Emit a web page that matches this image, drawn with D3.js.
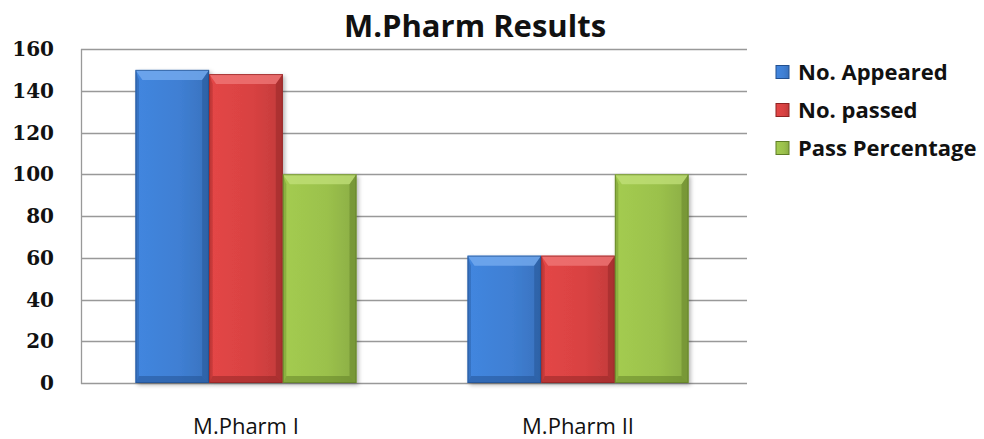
<!DOCTYPE html>
<html><head><meta charset="utf-8">
<script src="https://cdn.jsdelivr.net/npm/d3@7"></script>
<style>body{margin:0;background:#fff}svg{display:block}</style>
</head><body>
<svg id="c" width="984" height="439"></svg>
<script>
const title = "M.Pharm Results";
const categories = ["M.Pharm I", "M.Pharm II"];
const seriesNames = ["No. Appeared", "No. passed", "Pass Percentage"];
const appeared = [150, 61];
const passed = [148, 61];
const passPct = [100, 100];
const yTicks = [0, 20, 40, 60, 80, 100, 120, 140, 160];
const colors = ["#3f7fd3", "#d84242", "#9bc14c"];
const darks = ["#22508f", "#8e2323", "#5f7d26"];
const lights = ["#78aef0", "#f07a7a", "#c2e07a"];

(function () {
const seriesVals = [appeared, passed, passPct];
const svg = d3.select("#c");
const font = "'Open Sans', 'DejaVu Sans', sans-serif";
const serif = "'DejaVu Serif', 'Liberation Serif', serif";
const pL = 81, pR = 747, pT = 49, pB = 383;

const y = d3.scaleLinear().domain([0, 160]).range([pB, pT]);
const x0 = d3.scaleBand().domain(categories).range([80, 744]).paddingInner(0.3343).paddingOuter(0.167);
const x1 = d3.scaleBand().domain(seriesNames).range([0, x0.bandwidth()]);

const defs = svg.append("defs");
colors.forEach((c, i) => {
  const g = defs.append("linearGradient").attr("id", "g" + i).attr("x1", 0).attr("x2", 1).attr("y1", 0).attr("y2", 0);
  g.append("stop").attr("offset", "0%").attr("stop-color", d3.color(c).brighter(0.15));
  g.append("stop").attr("offset", "60%").attr("stop-color", c);
  g.append("stop").attr("offset", "100%").attr("stop-color", d3.color(c).darker(0.3));
});
const f = defs.append("filter").attr("id", "sh").attr("x", "-20%").attr("y", "-20%").attr("width", "150%").attr("height", "150%");
f.append("feDropShadow").attr("dx", 2).attr("dy", 2).attr("stdDeviation", 2).attr("flood-color", "#000").attr("flood-opacity", 0.3);

svg.append("g").selectAll("line").data(yTicks).join("line")
  .attr("x1", pL).attr("x2", pR)
  .attr("y1", d => Math.round(y(d)) + 0.5).attr("y2", d => Math.round(y(d)) + 0.5)
  .attr("stroke", "#999").attr("stroke-width", 1.3);
svg.append("line").attr("x1", pL + 0.5).attr("x2", pL + 0.5).attr("y1", pT).attr("y2", pB + 1)
  .attr("stroke", "#999").attr("stroke-width", 1.3);

svg.append("g").selectAll("text").data(yTicks).join("text")
  .attr("x", 54).attr("y", d => y(d)).attr("dy", "0.36em")
  .attr("text-anchor", "end").attr("font-family", serif).attr("font-weight", "bold")
  .attr("font-size", 20).attr("fill", "#111").text(d => d);

const bevel = 7;
categories.forEach((cat, ci) => {
  seriesNames.forEach((s, si) => {
    const v = seriesVals[si][ci];
    const bx = x0(cat) + x1(s), bw = x1.bandwidth();
    const by = y(v), bh = y(0) - y(v);
    const g = svg.append("g");
    g.append("rect").attr("x", bx).attr("y", by).attr("width", bw).attr("height", bh)
      .attr("fill", `url(#g${si})`).attr("filter", "url(#sh)");
    g.append("path").attr("d", `M${bx},${by}L${bx + bw},${by}L${bx + bw - bevel},${by + bevel + 3}L${bx + bevel},${by + bevel + 3}Z`)
      .attr("fill", lights[si]).attr("opacity", 0.75);
    g.append("path").attr("d", `M${bx},${by}L${bx + bevel * 0.5},${by + bevel + 3}L${bx + bevel * 0.5},${by + bh - bevel}L${bx},${by + bh}Z`)
      .attr("fill", darks[si]).attr("opacity", 0.35);
    g.append("path").attr("d", `M${bx + bw},${by}L${bx + bw - bevel},${by + bevel + 3}L${bx + bw - bevel},${by + bh - bevel}L${bx + bw},${by + bh}Z`)
      .attr("fill", darks[si]).attr("opacity", 0.45);
    g.append("path").attr("d", `M${bx},${by + bh}L${bx + bevel * 0.5},${by + bh - bevel}L${bx + bw - bevel},${by + bh - bevel}L${bx + bw},${by + bh}Z`)
      .attr("fill", darks[si]).attr("opacity", 0.5);
    g.append("rect").attr("x", bx + 0.5).attr("y", by + 0.5).attr("width", bw - 1).attr("height", bh - 1)
      .attr("fill", "none").attr("stroke", darks[si]).attr("stroke-width", 1).attr("opacity", 0.7);
  });
});

svg.append("g").selectAll("text").data(categories).join("text")
  .attr("x", d => x0(d) + x0.bandwidth() / 2).attr("y", 434)
  .attr("text-anchor", "middle").attr("font-family", font)
  .attr("font-size", 22).attr("fill", "#111").text(d => d);

svg.append("text").attr("x", 475).attr("y", 37).attr("text-anchor", "middle")
  .attr("font-family", font).attr("font-weight", "bold").attr("font-size", 31).attr("fill", "#111").text(title);

const ly = [72, 110, 148];
seriesNames.forEach((s, i) => {
  svg.append("rect").attr("x", 776).attr("y", ly[i] - 6.5).attr("width", 13).attr("height", 13)
    .attr("fill", `url(#g${i})`).attr("stroke", darks[i]).attr("stroke-width", 1);
  svg.append("text").attr("x", 798).attr("y", ly[i]).attr("dy", "0.36em")
    .attr("font-family", font).attr("font-weight", "bold").attr("font-size", 22).attr("fill", "#111").text(s);
});
})();
</script>
</body></html>
